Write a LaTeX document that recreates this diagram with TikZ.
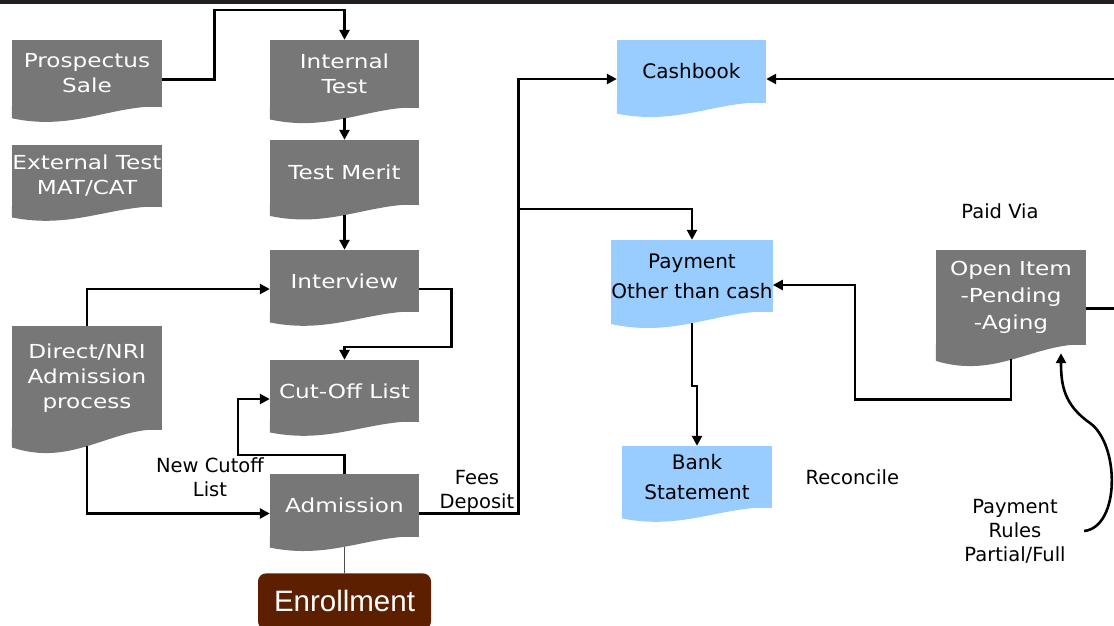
\documentclass[tikz,border=0pt]{standalone}
\usepackage{fontspec}
\setmainfont{DejaVu Sans}
\newfontfamily\boxfont[FakeStretch=1.2]{DejaVu Sans}
\newfontfamily\bigfont{Liberation Sans}
\usetikzlibrary{shapes,positioning,arrows.meta}
\usepackage{xcolor}
\definecolor{docgrey}{HTML}{777777}
\definecolor{docblue}{HTML}{99CCFF}
\definecolor{enrollbrown}{HTML}{5C1F00}
\definecolor{topbar}{HTML}{231F20}

\begin{document}
\begin{tikzpicture}[x=1pt,y=-1pt,%
		   gdoc/.style={fill=docgrey,text=white,font=\boxfont\fontsize{19.3}{25}\selectfont,align=center,inner sep=0pt},
		   bdoc/.style={fill=docblue,text=black,font=\fontsize{20}{30}\selectfont,align=center,inner sep=0pt},
		   lbl/.style={align=center,font=\fontsize{19.5}{24}\selectfont},
		   enroll/.style={fill=enrollbrown,text=white,rounded corners=8pt,minimum width=173pt,minimum height=56pt,font=\bigfont\fontsize{29.5}{34}\selectfont},
		   flow/.style={-{Triangle[length=10pt,width=10pt]},line width=2.6pt},
		   link/.style={line width=2.6pt}]

	\useasboundingbox (0,0) rectangle (1114,625);
	\fill[topbar] (0,0) rectangle (1114,4);

	    \foreach \nm/\x/\y/\h/\w/\sty/\col/\txt in {%
	       pros/12/40/67/150/gdoc/docgrey/{Prospectus\\Sale},%
	       ext/12/145/62/150/gdoc/docgrey/{External Test\\MAT/CAT},%
	       itest/270/40/68/149/gdoc/docgrey/{Internal\\Test},%
	       merit/270/140/65/149/gdoc/docgrey/{Test Merit},%
	       intv/270/250/62/149/gdoc/docgrey/{Interview},%
	       cutoff/270/360/62/149/gdoc/docgrey/{Cut-Off List},%
	       adm/270/474/63/149/gdoc/docgrey/{Admission},%
	       direct/12/326/104/150/gdoc/docgrey/{Direct/NRI\\Admission\\process},%
	       open/936/250/95/150/gdoc/docgrey/{Open Item\\[2pt]-Pending\\[2pt]-Aging},%
	       cash/617/40/63/149/bdoc/docblue/{Cashbook},%
	       pay/612/240/72/160/bdoc/docblue/{Payment\\Other than cash},%
	       bank/622/446/62/150/bdoc/docblue/{Bank\\Statement}%
	       } { \node[\sty,minimum width=\w,minimum height=\h] (\nm) at (\x+\w/2,\y+\h/2) {\txt};
		   \fill[\col] ([yshift=1pt]\nm.south west) -- ++(0,0.165*\h+1)
		      .. controls (\x+0.4*\w,\y+1.36*\h) and (\x+0.65*\w,\y+0.98*\h) .. ([yshift=1pt]\nm.south east) -- cycle;
	       }

	\node[enroll,below=36pt of adm.south] (enrl) {Enrollment};

	\node[lbl] (newcut) at (210,477) {New Cutoff\\List};
	\node[lbl] (feesdep) at (477,491) {Fees\\Deposit};
	\node[lbl] (paidvia) at (1000,211) {Paid Via};
	\node[lbl,right=30pt of bank.east] (reconcile) {Reconcile};
	\node[lbl] (rules) at (1015,531) {Payment\\Rules\\Partial/Full};

	\coordinate (fees) at ([xshift=99pt,yshift=-8pt]adm.east);
	\coordinate (branch) at ([yshift=31pt]pay.north);
	\coordinate (rightin) at (1114,79);
	\coordinate (rightout) at ([xshift=28pt,yshift=-11pt]open.east);
	\coordinate (openrule) at ([xshift=50pt,yshift=-8pt]open.south);

	\draw[flow] ([yshift=-6pt]pros.east) -- ++(52,0) |- ([yshift=30pt]itest.north) -- (itest.north);
	\draw[flow] ([yshift=-10pt]itest.south) -- (merit.north);
	\draw[flow] ([yshift=-10pt]merit.south) -- (intv.north);
	\draw[flow] (direct.north) |- ([yshift=-8pt]intv.west);
	\draw[flow] ([yshift=-8pt]intv.east) -- ++(32,0) |- ([yshift=13pt]cutoff.north) -- (cutoff.north);
	\draw[flow] (adm.north) -- ++(0,-19) -| ([xshift=-32pt,yshift=-8pt]cutoff.west) -- ([yshift=-8pt]cutoff.west);
	\draw[flow] ([yshift=-16pt]direct.south) |- ([yshift=-8pt]adm.west);
	\draw[line width=1pt,black!70] ([yshift=-10pt]adm.south) -- (enrl.north);
	\draw[flow] ([yshift=-8pt]adm.east) -- (fees) |- ([yshift=-7.5pt]cash.west);
	\draw[flow] (fees |- branch) -- (branch) -- (pay.north);
	\draw[flow] (rightin) -- ([yshift=-7.5pt]cash.east);
	\draw[flow] ([yshift=-11pt]pay.south) |- ([yshift=60pt]bank.north) -- (bank.north);
	\draw[flow] ([yshift=-14pt]open.south) -- ++(0,40) -| ([xshift=82pt,yshift=-9pt]pay.east) -- ([yshift=-9pt]pay.east);
	\draw[link] ([yshift=-11pt]open.east) -- (rightout);
	\draw[flow] ([xshift=15pt]rules.east) .. controls (1120,527) and (1120,445) .. (1090,423)
	   .. controls (1064,405) and (1061,385) .. (openrule);
\end{tikzpicture}
\end{document}
